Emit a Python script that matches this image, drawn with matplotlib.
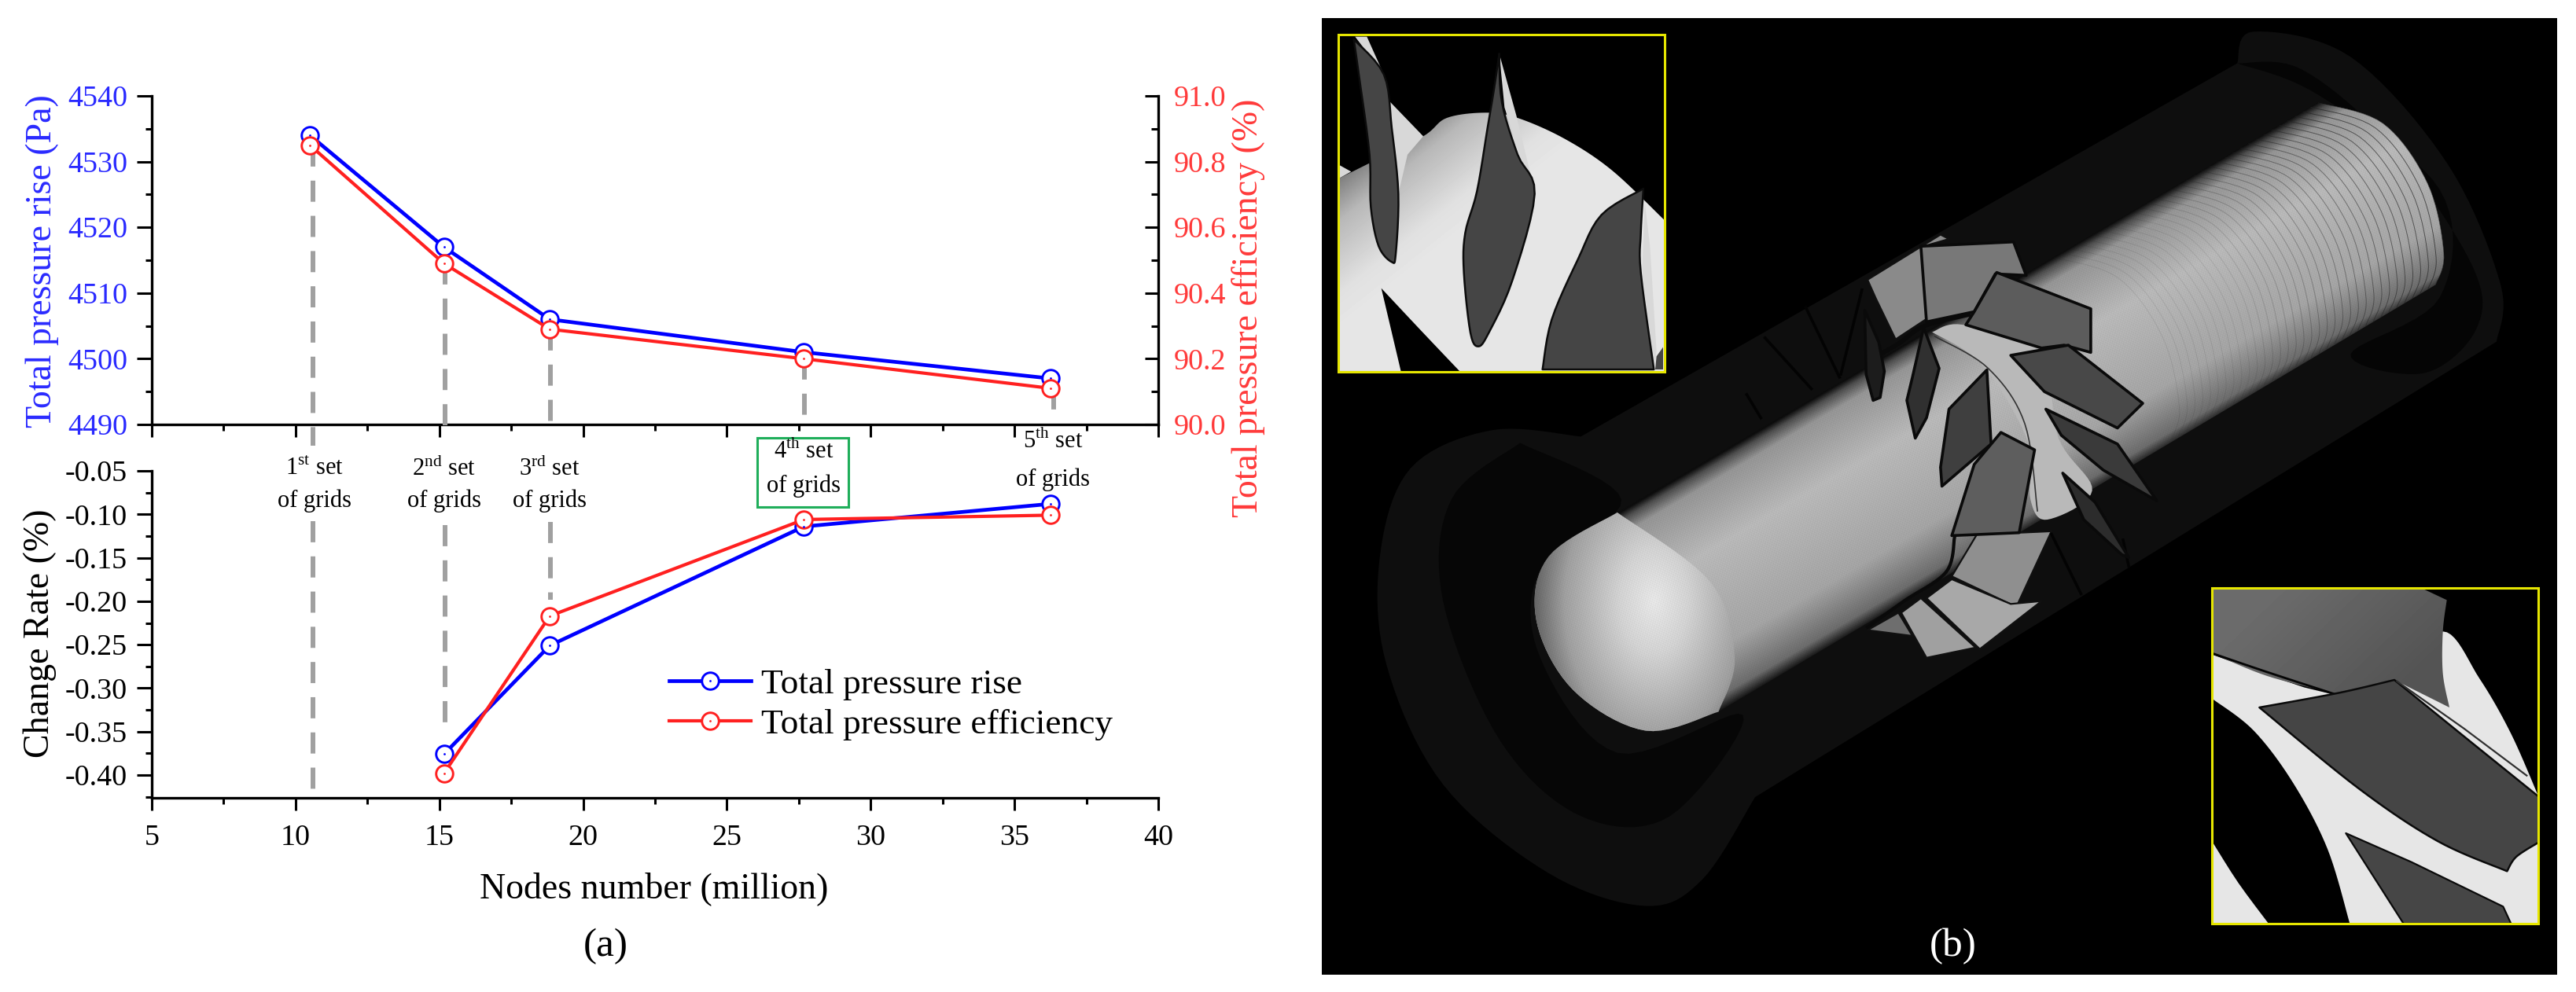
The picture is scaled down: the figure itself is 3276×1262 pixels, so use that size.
from itertools import count
import numpy as np
import matplotlib
matplotlib.use('Agg')
import matplotlib.pyplot as plt
from matplotlib.patches import Polygon, Rectangle
from matplotlib.legend_handler import HandlerTuple
from matplotlib.ticker import MultipleLocator, FormatStrFormatter

plt.rcParams['font.family'] = ['Liberation Serif', 'DejaVu Serif']
plt.rcParams['mathtext.fontset'] = 'custom'
plt.rcParams['mathtext.rm'] = 'Liberation Serif'
plt.rcParams['axes.unicode_minus'] = False

W, H = 3276, 1262

# grid study data
nodes = [10.5, 15.16, 18.84, 27.68, 36.26]
pressure_rise = [4534, 4517, 4506, 4501, 4497]
efficiency = [90.85, 90.49, 90.29, 90.20, 90.11]
rate_nodes = [15.16, 18.84, 27.68, 36.26]
rate_pressure = [-0.376, -0.251, -0.114, -0.088]
rate_efficiency = [-0.398, -0.217, -0.106, -0.101]

# grey dashed guides
guide_x = [10.6, 15.2, 18.85, 27.7, 36.35]
guide_upper_end = [89.935, 89.964, 89.974, 90.0, 90.012]
guide_lower_x = [10.6, 15.2, 18.85]
guide_lower_top = [-0.108, -0.1127, -0.109]
guide_lower_end = [-0.42, -0.346, -0.1986]

set_labels = ['1$^{\\mathrm{st}}$ set', '2$^{\\mathrm{nd}}$ set', '3$^{\\mathrm{rd}}$ set',
              '4$^{\\mathrm{th}}$ set', '5$^{\\mathrm{th}}$ set']
set_label_x = [400, 565, 699, 1022, 1339]
set_label_y1 = [596, 596, 596, 574, 561]
set_label_y2 = [637, 637, 637, 618, 610]

BLUE = '#0000ff'
RED = '#ff2020'
BLUE_TXT = '#2a2aff'
RED_TXT = '#ff3a3a'
GUIDE = '#a0a0a0'
TICK = 27.4
LABEL = 33


def px_axes(left, top, right, bottom):
    return fig.add_axes([left / W, 1 - bottom / H, (right - left) / W, (bottom - top) / H])


def style_ticks(ax, side):
    ax.tick_params(axis='x', which='major', length=11.8, width=2.2, direction='out')
    ax.tick_params(axis='x', which='minor', length=6, width=2.2, direction='out')
    ax.xaxis.set_major_locator(MultipleLocator(5))
    ax.xaxis.set_minor_locator(MultipleLocator(2.5))
    for s in ax.spines.values():
        s.set_linewidth(2.4)
    if side == 'left':
        ax.tick_params(axis='y', which='major', length=13.7, width=2.2, pad=8.6, labelsize=TICK)
        ax.tick_params(axis='y', which='minor', length=6, width=2.2)
    else:
        ax.tick_params(axis='y', which='major', length=12, width=2.2, direction='in', pad=14.4, labelsize=TICK)
        ax.tick_params(axis='y', which='minor', length=6.5, width=2.2, direction='in')


def draw_series(ax, x, y, color, lw):
    line, = ax.plot(x, y, color=color, lw=lw, marker='o', ms=15.5, mfc='white', mec=color, mew=2.1, zorder=4,
                    clip_on=False)
    dot, = ax.plot(x, y, ls='none', color=color, marker='o', ms=2, mew=0, zorder=5, clip_on=False)
    return line, dot


fig = plt.figure(figsize=(W / 100, H / 100), dpi=100, facecolor='white')

# upper panel
ax1 = px_axes(193, 122, 1473, 540)
ax1.set_xlim(5, 40)
ax1.set_ylim(4490, 4540)
ax1.yaxis.set_major_locator(MultipleLocator(10))
ax1.yaxis.set_minor_locator(MultipleLocator(5))
ax1.spines['top'].set_visible(False)
ax1.spines['right'].set_visible(False)
style_ticks(ax1, 'left')
ax1.tick_params(axis='x', labelbottom=False)
ax1.tick_params(axis='y', which='major', labelcolor=BLUE_TXT)
draw_series(ax1, nodes, pressure_rise, BLUE, 3.4)

ax2 = ax1.twinx()
ax2.set_ylim(90.0, 91.0)
ax2.yaxis.set_major_locator(MultipleLocator(0.2))
ax2.yaxis.set_minor_locator(MultipleLocator(0.1))
ax2.yaxis.set_major_formatter(FormatStrFormatter('%.1f'))
ax2.spines['top'].set_visible(False)
ax2.spines['left'].set_visible(False)
ax2.spines['bottom'].set_visible(False)
style_ticks(ax2, 'right')
ax2.tick_params(axis='y', which='major', labelcolor=RED_TXT)
ax2.patch.set_visible(False)
for i in range(len(guide_x)):
    ax2.plot([guide_x[i], guide_x[i]], [efficiency[i], guide_upper_end[i]], color=GUIDE, lw=4.3,
             ls=(0, (4.5, 3)), zorder=1, clip_on=False)
draw_series(ax2, nodes, efficiency, RED, 3.0)

# lower panel
ax3 = px_axes(193, 599, 1473, 1015)
ax3.set_xlim(5, 40)
ax3.set_ylim(-0.4262, -0.05)
ax3.yaxis.set_major_locator(MultipleLocator(0.05))
ax3.yaxis.set_minor_locator(MultipleLocator(0.025))
ax3.yaxis.set_major_formatter(FormatStrFormatter('%.2f'))
ax3.spines['top'].set_visible(False)
ax3.spines['right'].set_visible(False)
style_ticks(ax3, 'left')
ax3.tick_params(axis='x', which='major', labelsize=TICK, pad=12)
ax3.patch.set_visible(False)
for i in range(len(guide_lower_x)):
    ax3.plot([guide_lower_x[i], guide_lower_x[i]], [guide_lower_top[i], guide_lower_end[i]], color=GUIDE, lw=4.3,
             ls=(0, (4.5, 3)), zorder=1)
h1 = draw_series(ax3, rate_nodes, rate_pressure, BLUE, 3.4)
h2 = draw_series(ax3, rate_nodes, rate_efficiency, RED, 3.0)
ax3.legend([h1, h2], ['Total pressure rise', 'Total pressure efficiency'],
           handler_map={tuple: HandlerTuple(ndivide=1, pad=0)},
           loc='center left', bbox_to_anchor=((851 - 193) / 1280, (1015 - 896) / 416),
           frameon=False, fontsize=32.7, handlelength=2.3, handletextpad=0.27,
           labelspacing=0.22, borderpad=0, borderaxespad=0)

# overlay in pixel coordinates: free texts and the mesh rendering
ov = fig.add_axes([0, 0, 1, 1])
ov.axis('off')
ov.patch.set_visible(False)
order = count(10)


def fit(pts, x0, y0, sx, sy):
    p = np.asarray(pts, float)
    return np.column_stack([x0 + p[:, 0] / sx, y0 + p[:, 1] / sy])


def z5(pts):
    return fit(pts, 1660, 0, 0.9703, 1.2425)


def z6(pts):
    return fit(pts, 2800, 740, 3, 3)


def z7(pts):
    return fit(pts, 1690, 30, 3, 3)


def z8(pts):
    return fit(pts, 2200, 280, 2.8, 2.703)


def smooth(pts, n=10):
    p = np.asarray(pts, float)
    p = np.vstack([p[0], p, p[-1]])
    out = []
    for i in range(1, len(p) - 2):
        for t in np.linspace(0, 1, n, endpoint=False):
            out.append(0.5 * (2 * p[i] + (p[i + 1] - p[i - 1]) * t
                              + (2 * p[i - 1] - 5 * p[i] + 4 * p[i + 1] - p[i + 2]) * t * t
                              + (3 * p[i] - p[i - 1] - 3 * p[i + 1] + p[i + 2]) * t ** 3))
    out.append(p[-2])
    return np.array(out)


def fill(pts, color, edge='none', lw=0):
    ov.add_patch(Polygon(pts, closed=True, facecolor=color, edgecolor=edge, linewidth=lw, joinstyle='round',
                         zorder=next(order)))


def put_image(img, pts, xmin, xmax, ymin, ymax):
    im = ov.imshow(img, extent=(xmin, xmax + 1, ymax + 1, ymin), cmap='gray', vmin=0, vmax=1, aspect='auto',
                   zorder=next(order), interpolation='bilinear')
    im.set_clip_path(Polygon(pts, closed=True, transform=ov.transData))


def grid_of(pts):
    xmin, ymin = np.floor(pts.min(axis=0))
    xmax, ymax = np.ceil(pts.max(axis=0))
    xx, yy = np.meshgrid(np.arange(xmin, xmax + 1), np.arange(ymin, ymax + 1))
    return xx, yy, xmin, xmax, ymin, ymax


def shade(pts, p0, p1, pos, grey, mesh=0.0):
    # grey ramp between two points, clipped to the outline
    xx, yy, xmin, xmax, ymin, ymax = grid_of(pts)
    d = np.asarray(p1, float) - np.asarray(p0, float)
    t = ((xx - p0[0]) * d[0] + (yy - p0[1]) * d[1]) / (d @ d)
    img = np.interp(t, pos, grey)
    if mesh:
        img = img * (1 + mesh * np.sin(xx * 1.9 + yy * 1.1) * np.sin(yy * 1.7 - xx * 0.9))
    put_image(img, pts, xmin, xmax, ymin, ymax)


def shade_round(pts, centre, rx, ry, pos, grey, mesh=0.0):
    xx, yy, xmin, xmax, ymin, ymax = grid_of(pts)
    r = np.hypot((xx - centre[0]) / rx, (yy - centre[1]) / ry)
    img = np.interp(r, pos, grey)
    if mesh:
        img = img * (1 + mesh * np.sin(xx * 1.9 + yy * 1.1) * np.sin(yy * 1.7 - xx * 0.9))
    put_image(img, pts, xmin, xmax, ymin, ymax)


# black background of panel (b)
fill([(1681, 22.5), (3252, 22.5), (3252, 1239.5), (1681, 1239.5)], 'black')

# faint casing
casing = np.vstack([
    smooth([(340, 690), (1150, 100)], 2),
    smooth([(1150, 100), (1170, 50), (1290, 90), (1410, 260), (1475, 450), (1470, 540)]),
    smooth([(1470, 540), (555, 1260)], 2),
    smooth([(555, 1260), (490, 1390), (420, 1432), (300, 1380), (170, 1240), (100, 1050), (92, 880), (130, 740),
            (230, 680), (340, 690)]),
])
fill(z5(casing), '#0e0e0e')
fill(z5(smooth([(1150, 100), (1230, 110), (1340, 230), (1440, 420), (1445, 520), (1380, 590), (1290, 560),
                (1400, 470), (1400, 300), (1250, 150), (1150, 100)])), '#050505')
fill(z5(smooth([(265, 700), (180, 790), (170, 950), (240, 1170), (340, 1290), (450, 1290), (540, 1130), (385, 1190),
                (290, 1040), (290, 900), (390, 790), (265, 700)])), '#060606')

# hub
hub_end = smooth([(1250, 162), (1330, 195), (1385, 290), (1405, 400), (1395, 450)])
nose_edge = smooth([(510, 1125), (420, 1155), (330, 1090), (285, 980), (300, 880), (385, 810)])
hub = np.vstack([[(385, 810)], hub_end, nose_edge])
hub_px = z5(hub)
shade(hub_px, z5([(640, 620)])[0], z5([(779, 923)])[0], [0, 0.03, 0.09, 0.35, 0.75, 0.94, 1],
      [0.05, 0.3, 0.58, 0.72, 0.64, 0.42, 0.06], mesh=0.05)

# rings on the outlet side of the hub
ring_clip = Polygon(hub_px, closed=True, transform=ov.transData)
ring_shift = np.array([-0.8, 0.6])
for s in np.arange(0, 420, 12):
    arc = hub_end + ring_shift * s
    ln, = ov.plot(*z5(arc).T, color='#222222', lw=0.7, alpha=max(0.1, 0.7 - s / 500), zorder=next(order))
    ln.set_clip_path(ring_clip)

# nose cap
nose = np.vstack([nose_edge, smooth([(385, 810), (500, 920), (530, 1040), (510, 1125)])])
shade_round(z5(nose), z5([(430, 950)])[0], 175, 265, [0, 0.25, 0.65, 0.9, 1.05], [0.9, 0.82, 0.62, 0.36, 0.08],
            mesh=0.05)

# impeller, back to front, outlines
back_light = [
    ([(490, 205), (750, 50), (780, 65), (690, 90), (700, 340), (590, 410), (520, 270)], '#8a8a8a'),
    ([(880, 1080), (1030, 1075), (1145, 1070), (1020, 1330), (790, 1225)], '#8f8f8f'),
    ([(700, 1300), (790, 1235), (1000, 1320), (1110, 1310), (890, 1475)], '#a8a8a8'),
    ([(610, 1350), (680, 1300), (875, 1470), (700, 1505)], '#a0a0a0'),
    ([(490, 1410), (600, 1350), (650, 1430)], '#6e6e6e'),
]
for pts, col in back_light:
    fill(z8(pts), col, '#101010', 1.6)

fill(z8(smooth([(720, 385), (830, 360), (1100, 450), (1170, 750), (1290, 930), (1130, 1030), (1070, 960),
                (1060, 760), (900, 500), (720, 385)])), '#b9b9b9')
ov.plot(*z8(smooth([(730, 400), (920, 510), (1050, 700), (1095, 1000)])).T, color='#333333', lw=1.2,
        zorder=next(order))
ov.plot(*z8(smooth([(500, 480), (600, 425), (690, 365), (850, 325)])).T, color='#0a0a0a', lw=4,
        zorder=next(order))
ov.plot(*z8(smooth([(800, 1090), (770, 1210), (620, 1310), (490, 1400)])).T, color='#0a0a0a', lw=3,
        zorder=next(order))

for a, b in [((270, 300), (390, 540)), ((125, 405), (290, 580)), ((60, 600), (110, 680)), ((470, 240), (395, 530)),
             ((1145, 1080), (1250, 1285)), ((1400, 1100), (1420, 1190))]:
    ov.plot(*z8([a, b]).T, color='#030303', lw=2.6, zorder=next(order))

front_blades = [
    ([(680, 90), (1010, 75), (1055, 190), (945, 185), (870, 315), (700, 350)], '#787878'),
    ([(950, 180), (1285, 305), (1285, 455), (1190, 430), (1110, 440), (840, 360), (870, 315)], '#5c5c5c'),
    ([(1000, 465), (1205, 430), (1470, 630), (1380, 715), (1120, 590)], '#484848'),
    ([(1125, 650), (1380, 770), (1520, 965), (1330, 860), (1180, 740)], '#3a3a3a'),
    ([(1185, 870), (1300, 970), (1420, 1160), (1395, 1150), (1260, 1030)], '#2c2c2c'),
    ([(915, 515), (930, 770), (755, 915), (750, 850), (780, 650)], '#3f3f3f'),
    ([(965, 730), (1085, 790), (1030, 1075), (790, 1085), (870, 840)], '#5e5e5e'),
    ([(690, 370), (745, 510), (700, 680), (660, 750), (630, 620), (650, 540)], '#303030'),
    ([(480, 310), (530, 420), (550, 520), (535, 610), (510, 620), (485, 530)], '#1c1c1c'),
]
for pts, col in front_blades:
    fill(z8(pts), col, '#0a0a0a', 2.6)

# lower right inset
fill(z6([(45, 30), (1285, 30), (1285, 1305), (45, 1305)]), 'black')
fill(z6(np.vstack([smooth([(45, 280), (500, 430), (740, 375)], 4),
                   smooth([(740, 375), (920, 190), (1060, 370), (1180, 580), (1285, 820)]),
                   [(1285, 1305), (565, 1305)],
                   smooth([(565, 1305), (480, 1020), (350, 770), (200, 570), (45, 450)])])), '#e6e6e6')
fill(z6(smooth([(45, 1000), (140, 1150), (255, 1305)], 4).tolist() + [(45, 1305)]), '#e6e6e6')
shade(z6(np.vstack([[(45, 30), (850, 30), (935, 70)],
                    smooth([(935, 70), (920, 190), (920, 350), (945, 480)]),
                    [(735, 375), (520, 430)], smooth([(520, 430), (250, 360), (45, 275)])])),
      z6([(300, 30)])[0], z6([(700, 450)])[0], [0, 1], [0.42, 0.33])
ov.plot(*z6(smooth([(45, 275), (250, 345), (510, 430)])).T, color='#050505', lw=2, zorder=next(order))
fill(z6(np.vstack([smooth([(220, 480), (520, 425), (735, 375)]), [(1000, 590), (1285, 820), (1285, 995)],
                   smooth([(1285, 995), (1200, 1050), (1165, 1105)]),
                   smooth([(1165, 1105), (900, 990), (600, 790), (220, 480)])])), '#454545', '#0a0a0a', 1.8)
fill(z6([(550, 960), (800, 1070), (1150, 1240), (1180, 1305), (770, 1305)]), '#464646', '#0a0a0a', 1.6)
ov.plot(*z6([(745, 380), (1000, 560), (1240, 740)]).T, color='#303030', lw=1.6, zorder=next(order))
ov.add_patch(Rectangle((2813, 748), 415, 427, fill=False, edgecolor='#e6e600', linewidth=2.2, zorder=next(order)))

# upper left inset
fill(z7([(35, 42), (1280, 42), (1280, 1328), (35, 1328)]), 'black')
inset_hub = np.vstack([smooth([(40, 590), (150, 535), (360, 430), (450, 360), (600, 340), (720, 360), (900, 440),
                               (1080, 560), (1280, 750)]),
                       [(1280, 1328), (500, 1328)],
                       smooth([(500, 1328), (350, 1170), (200, 1010)], 4),
                       [(275, 1328), (40, 1328)]])
shade(z7(inset_hub), z7([(120, 470)])[0], z7([(420, 850)])[0], [0, 0.35, 0.8, 1], [0.42, 0.72, 0.88, 0.9])
fill(z7([(225, 290), (360, 430), (300, 500), (265, 650)]), '#d8d8d8')
fill(z7([(40, 540), (85, 565), (40, 590)]), '#d8d8d8')
fill(z7([(100, 50), (145, 50), (210, 195)]), '#d8d8d8')
fill(z7([(650, 115), (715, 350), (785, 640), (720, 480), (670, 320)]), '#d8d8d8')
fill(z7([(1205, 680), (1225, 850), (1250, 1250), (1240, 1320), (1195, 950)]), '#d8d8d8')
leaf_blades = [
    [(95, 60), (115, 200), (155, 500), (160, 700), (190, 850), (240, 910), (255, 880), (265, 650), (240, 400),
     (210, 195), (95, 60)],
    [(650, 115), (630, 250), (605, 400), (565, 640), (520, 800), (515, 950), (540, 1180), (570, 1232), (610, 1180),
     (700, 980), (785, 650), (720, 500), (660, 300), (650, 115)],
]
for pts in leaf_blades:
    fill(z7(smooth(pts, 6)), '#454545', '#0c0c0c', 1.8)
fill(z7(np.vstack([[(1200, 630)], smooth([(1200, 630), (1190, 800), (1190, 950), (1240, 1320)], 6),
                   [(815, 1320)], smooth([(815, 1320), (850, 1130), (950, 900), (1040, 730), (1200, 630)], 6)])),
     '#454545', '#0c0c0c', 1.8)
fill(z7([(1250, 1270), (1275, 1235), (1275, 1320), (1245, 1320)]), '#454545')
ov.add_patch(Rectangle((1701.7, 44), 415, 428.7, fill=False, edgecolor='#e6e600', linewidth=2.2, zorder=next(order)))

# texts
ov.text(54, 332, 'Total pressure rise (Pa)', rotation=90, ha='center', va='center', fontsize=LABEL, color=BLUE_TXT,
        zorder=next(order))
ov.text(1588, 392, 'Total pressure efficiency (%)', rotation=90, ha='center', va='center', fontsize=LABEL,
        color=RED_TXT, zorder=next(order))
ov.text(51, 806, 'Change Rate (%)', rotation=90, ha='center', va='center', fontsize=LABEL, zorder=next(order))
ov.text(832, 1131, 'Nodes number (million)', ha='center', va='center', fontsize=LABEL, zorder=next(order))
ov.text(770, 1204, '(a)', ha='center', va='center', fontsize=37, zorder=next(order))
ov.text(2484, 1204, '(b)', ha='center', va='center', fontsize=37, color='white', zorder=next(order))
ov.add_patch(Rectangle((963, 557), 116, 88, fill=False, edgecolor='#1fae5a', linewidth=2.2, zorder=next(order)))
for i in range(len(set_labels)):
    ov.text(set_label_x[i], set_label_y1[i], set_labels[i], ha='center', va='center', fontsize=22, zorder=next(order))
    ov.text(set_label_x[i], set_label_y2[i], 'of grids', ha='center', va='center', fontsize=22, zorder=next(order))

ov.set_xlim(0, W)
ov.set_ylim(H, 0)

fig.savefig('out.png', dpi=100)
